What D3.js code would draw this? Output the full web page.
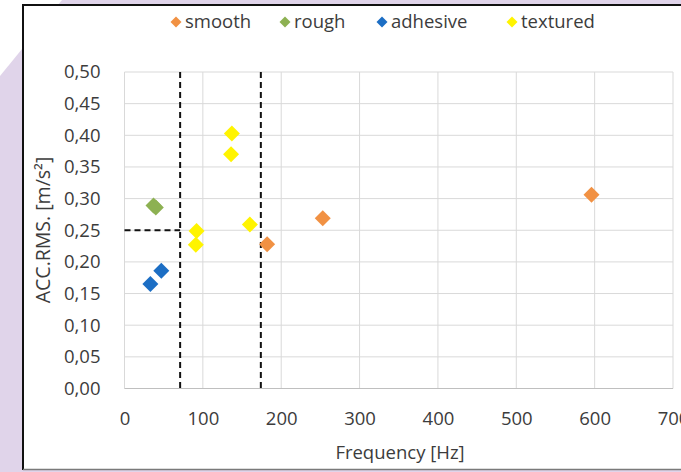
<!DOCTYPE html>
<html>
<head>
<meta charset="utf-8">
<script src="https://cdn.jsdelivr.net/npm/d3@7/dist/d3.min.js"></script>
<style>
  html, body { margin: 0; padding: 0; background: #ffffff; }
  svg { display: block; }
  text { font-family: "Open Sans", sans-serif; fill: #3c3c3c; }
</style>
</head>
<body>
<svg id="chart" width="681" height="472"></svg>
<script>
// Measured acceleration RMS against dominant frequency, per surface type
const seriesNames = ["smooth", "rough", "adhesive", "textured"];
const seriesColors = ["#f19143", "#8db152", "#1c6ec4", "#fff400"];

const smoothFreq = [182, 253, 596];
const smoothAcc = [0.228, 0.269, 0.306];
const roughFreq = [37, 40];
const roughAcc = [0.289, 0.286];
const adhesiveFreq = [33, 47];
const adhesiveAcc = [0.165, 0.186];
const texturedFreq = [91, 92, 136, 137, 160];
const texturedAcc = [0.227, 0.249, 0.370, 0.403, 0.259];

// Threshold guides (dashed)
const freqThresholds = [71, 174];
const accThreshold = 0.25;

const xTicks = [0, 100, 200, 300, 400, 500, 600, 700];
const yTicks = [0, 0.05, 0.10, 0.15, 0.20, 0.25, 0.30, 0.35, 0.40, 0.45, 0.50];

const series = [
  { name: seriesNames[0], color: seriesColors[0], f: smoothFreq, a: smoothAcc },
  { name: seriesNames[1], color: seriesColors[1], f: roughFreq, a: roughAcc },
  { name: seriesNames[2], color: seriesColors[2], f: adhesiveFreq, a: adhesiveAcc },
  { name: seriesNames[3], color: seriesColors[3], f: texturedFreq, a: texturedAcc }
];

const svg = d3.select("#chart");
const W = 681, H = 472;

// Page backdrop: lilac band with a white top-left corner
svg.append("rect").attr("x", 0).attr("y", 0).attr("width", W).attr("height", H).attr("fill", "#e0d4ea");
svg.append("path").attr("d", "M0,0 L62,0 L0,76 Z").attr("fill", "#ffffff");

// Chart frame
svg.append("rect").attr("x", 23).attr("y", 5).attr("width", W).attr("height", 464).attr("fill", "#ffffff");
svg.append("line").attr("x1", 23).attr("x2", W).attr("y1", 5).attr("y2", 5).attr("stroke", "#111").attr("stroke-width", 2);
svg.append("line").attr("x1", 23).attr("x2", 23).attr("y1", 4).attr("y2", 470).attr("stroke", "#111").attr("stroke-width", 2);
svg.append("line").attr("x1", 23).attr("x2", W).attr("y1", 469.5).attr("y2", 469.5).attr("stroke", "#7a7a7a").attr("stroke-width", 1.5);

const x = d3.scaleLinear().domain([0, 700]).range([124.5, 673]);
const y = d3.scaleLinear().domain([0, 0.5]).range([388.5, 72]);

// Gridlines
const grid = svg.append("g");
grid.selectAll(".gx").data(xTicks).enter().append("line")
  .attr("x1", d => x(d)).attr("x2", d => x(d))
  .attr("y1", y(0.5)).attr("y2", y(0))
  .attr("stroke", "#d9d9d9").attr("stroke-width", 1);
grid.selectAll(".gy").data(yTicks).enter().append("line")
  .attr("x1", x(0)).attr("x2", x(700))
  .attr("y1", d => y(d)).attr("y2", d => y(d))
  .attr("stroke", d => d === 0 ? "#bfbfbf" : "#d9d9d9").attr("stroke-width", 1);

// Axes (labels only, comma decimal separator)
const fmtY = d => d3.format(".2f")(d).replace(".", ",");
const xAxis = svg.append("g").attr("transform", `translate(0,${y(0)})`)
  .call(d3.axisBottom(x).tickValues(xTicks).tickSize(0).tickPadding(23).tickFormat(d3.format("d")));
const yAxis = svg.append("g").attr("transform", `translate(${x(0)},0)`)
  .call(d3.axisLeft(y).tickValues(yTicks).tickSize(0).tickPadding(24).tickFormat(fmtY));
[xAxis, yAxis].forEach(g => {
  g.select(".domain").remove();
  g.selectAll("text").attr("font-family", "Open Sans, sans-serif").attr("font-size", 18.5).attr("fill", "#3c3c3c");
});

// Dashed threshold guides
const guides = svg.append("g").attr("stroke", "#111").attr("stroke-width", 2).attr("stroke-dasharray", "6,4");
freqThresholds.forEach(f => {
  guides.append("line").attr("x1", x(f)).attr("x2", x(f)).attr("y1", y(0.5)).attr("y2", y(0));
});
guides.append("line").attr("x1", x(0)).attr("x2", x(freqThresholds[0])).attr("y1", y(accThreshold)).attr("y2", y(accThreshold));

// Diamond markers
const diamond = r => `M0,${-r} L${r},0 L0,${r} L${-r},0 Z`;
series.forEach(s => {
  svg.append("g").selectAll("path").data(s.f.map((f, i) => [f, s.a[i]])).enter().append("path")
    .attr("d", diamond(8))
    .attr("transform", d => `translate(${x(d[0])},${y(d[1])})`)
    .attr("fill", s.color);
});

// Legend
const legendX = [176, 285, 382, 512];
const legend = svg.append("g");
series.forEach((s, i) => {
  legend.append("path").attr("d", diamond(5.5)).attr("transform", `translate(${legendX[i]},22)`).attr("fill", s.color);
  legend.append("text").attr("x", legendX[i] + 9).attr("y", 22).attr("dy", "0.35em")
    .attr("font-size", 18.5).text(s.name);
});

// Axis titles
svg.append("text").attr("x", 400).attr("y", 453).attr("dy", "0.35em")
  .attr("text-anchor", "middle").attr("font-size", 18.5).text("Frequency [Hz]");
svg.append("text").attr("transform", "translate(43,230) rotate(-90)").attr("dy", "0.35em")
  .attr("text-anchor", "middle").attr("font-size", 19.5).text("ACC.RMS. [m/s²]");
</script>
</body>
</html>
